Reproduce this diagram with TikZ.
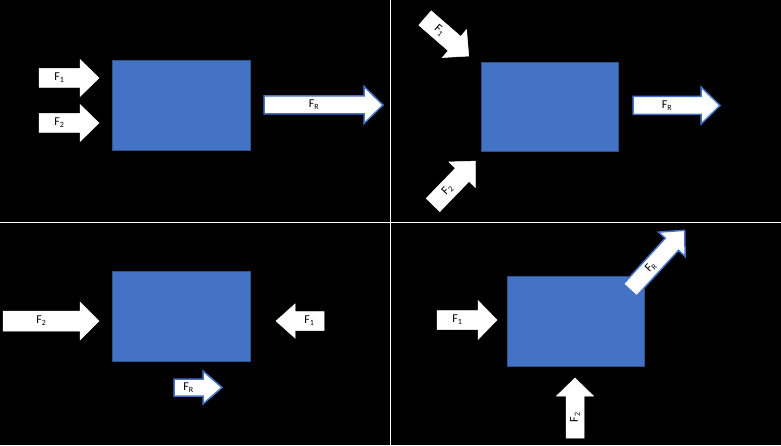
\documentclass[tikz,border=0pt]{standalone}
\usepackage{fontspec}
\setmainfont{Carlito}
\definecolor{boxblue}{HTML}{4472C4}
\definecolor{boxedge}{HTML}{2F528F}
\tikzset{
  wbox/.style={fill=boxblue,draw=boxedge,line width=0.8pt},
  farrw/.style={fill=white,draw=white,line width=0.5pt},
  farrb/.style={fill=white,draw=boxblue,line width=1.5pt},
  flab/.style={font=\fontsize{12}{13}\selectfont,inner sep=0pt}
}
% #1 tail, #2 angle, #3 length, #4 shaft half, #5 head half, #6 head len, #7 label, #8 label rot, #9 style
\newcommand\farr[9]{%
  \begin{scope}[shift={#1},rotate=#2]
    \draw[#9] (0,-#4)--({#3-#6},-#4)--({#3-#6},-#5)--(#3,0)--({#3-#6},#5)--({#3-#6},#4)--(0,#4)--cycle;
    \node[flab,rotate=#8] at ({(#3-#6)/2},0) {#7};
  \end{scope}}
\begin{document}
\begin{tikzpicture}[x=1pt,y=1pt]
\fill[black] (0,0) rectangle (781,445);
\useasboundingbox (0,0) rectangle (781,445);
\draw[white,line width=1pt] (390,0)--(390,445);
\draw[white,line width=1pt] (0,222.5)--(781,222.5);
% panel 1
\node[wbox,minimum width=138pt,minimum height=90pt,inner sep=0pt,anchor=north west] (b1) at (112,385) {};
\farr{(39,367)}{0}{60}{9.5}{18.5}{19}{F\textsubscript{1}}{0}{farrw}
\farr{(39,322)}{0}{60}{9.5}{18.5}{19}{F\textsubscript{2}}{0}{farrw}
\farr{(264,340)}{0}{119}{9}{18.5}{19}{F\textsubscript{R}}{0}{farrb}
% panel 2
\node[wbox,minimum width=137pt,minimum height=89pt,inner sep=0pt,anchor=north west] (b2) at (481,383) {};
\farr{(425,427)}{-41}{58}{9.5}{18.5}{19}{F\textsubscript{1}}{-41}{farrw}
\farr{(433,240)}{46}{61}{9.5}{18.5}{19}{F\textsubscript{2}}{46}{farrw}
\farr{(633,339.5)}{0}{87}{9}{18.5}{19}{F\textsubscript{R}}{0}{farrb}
% panel 3
\node[wbox,minimum width=138pt,minimum height=90pt,inner sep=0pt,anchor=north west] (b3) at (112,174) {};
\farr{(3,124)}{0}{96}{10}{19}{19}{F\textsubscript{2}}{0}{farrw}
\farr{(324,124)}{180}{48}{9.5}{17}{19}{F\textsubscript{1}}{0}{farrw}
\farr{(174,57.5)}{0}{48}{8.5}{16.5}{19}{F\textsubscript{R}}{0}{farrb}
% panel 4
\node[wbox,minimum width=137pt,minimum height=90pt,inner sep=0pt,anchor=north west] (b4) at (507,169) {};
\farr{(437,125)}{0}{60}{9.5}{19.5}{19}{F\textsubscript{1}}{0}{farrw}
\farr{(575,7)}{90}{60}{9}{18.5}{18}{F\textsubscript{2}}{90}{farrw}
\farr{(630,155)}{47.5}{81}{9}{18}{19}{F\textsubscript{R}}{47.5}{farrb}
\end{tikzpicture}
\end{document}
